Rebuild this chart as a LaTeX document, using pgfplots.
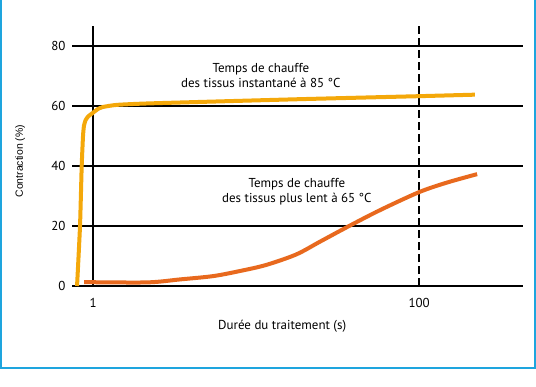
\documentclass[border=0pt]{standalone}
\usepackage{pgfplots}
\pgfplotsset{compat=1.18}
\usepackage{fontspec}
\setmainfont{PT Sans}
\newfontfamily\arialfont{Liberation Sans}
\definecolor{frameblue}{HTML}{1EA5DE}
\definecolor{cyell}{HTML}{F4A80A}
\definecolor{corange}{HTML}{E8691E}
\begin{document}
\begin{tikzpicture}[x=1bp,y=1bp]
\fill[white] (0,0) rectangle (536,386);
\useasboundingbox (0,0) rectangle (536,386);
\draw[frameblue, line width=2.2bp] (1,392) -- (1,18) -- (535,18) -- (535,392);
\begin{axis}[
  at={(72bp,100bp)}, anchor=south west,
  scale only axis, width=451bp, height=260bp,
  xmode=log, xmin=0.743, xmax=434, ymin=0, ymax=86.7,
  axis line style={draw=none},
  major tick length=0pt,
  ytick={0,20,40,60,80},
  xtick={1}, xticklabels={1},
  extra x ticks={100}, extra x tick labels={100},
  ymajorgrids, xmajorgrids,
  grid style={black, line width=1.3bp},
  extra x tick style={grid style={black, line width=1.3bp, dash pattern=on 8bp off 4bp}},
  /pgf/number format/assume math mode=true,
  yticklabel style={font=\fontsize{13}{15}\selectfont, xshift=-3bp},
  xticklabel style={font=\fontsize{13}{15}\selectfont, yshift=-9bp},
  xlabel={Durée du traitement (s)},
  xlabel style={at={(axis description cs:0.466,-0.154)}, anchor=center, font=\fontsize{13}{15}\selectfont},
  ylabel={Contraction (\%)},
  ylabel style={at={(axis description cs:-0.115,0.48)}, anchor=center, font=\arialfont\fontsize{10.5}{12}\selectfont},
]
\addplot[cyell, line width=4bp, smooth, tension=0.3, line join=round] coordinates {
 (0.798,0) (0.832,20) (0.852,40) (0.868,50) (0.88,53.5) (0.90,55.3) (0.932,56.5) (1,57.8) (1.07,59) (1.15,59.7) (1.40,60.4) (2.24,60.9) (18.6,62.3) (100,63.3) (220,63.8)
};
\addplot[corange, line width=4bp, smooth, tension=0.5, line join=round] coordinates {
 (0.881,1.3) (2.14,1.2) (3.42,2.2) (5.45,3.3) (7.97,5) (11.5,7) (17.6,10.5) (24.7,14.8) (37.2,20) (57.6,25.3) (100,31.3) (148.5,34.5) (227,37.3)
};
\node[align=center, font=\fontsize{13}{15}\selectfont] at (axis cs:10.7,70.2) {Temps de chauffe\\des tissus instantané à 85 °C};
\node[align=center, font=\fontsize{13}{15}\selectfont] at (axis cs:17.8,31.5) {Temps de chauffe\\des tissus plus lent à 65 °C};
\end{axis}
\end{tikzpicture}
\end{document}
